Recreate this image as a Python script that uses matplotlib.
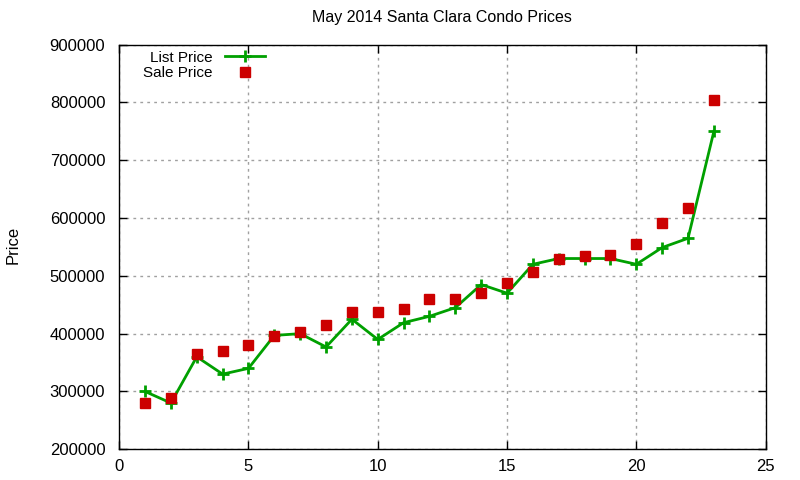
import matplotlib
matplotlib.use('Agg')
import matplotlib.pyplot as plt

plt.rcParams['font.family'] = ['Liberation Sans', 'DejaVu Sans']

# data
months = list(range(1, 24))
list_price = [300000, 280000, 360000, 330000, 340000, 397000, 400000, 377000, 425000, 390000,
              419000, 430000, 445000, 485000, 470000, 520000, 530000, 530000, 530000, 520000,
              549000, 565000, 750000]
sale_price = [280000, 289000, 365000, 370000, 380000, 396000, 403000, 415000, 437000, 437000,
              443000, 460000, 460000, 470000, 488000, 507000, 530000, 535000, 536000, 555000,
              592000, 618000, 805000]

fig = plt.figure(figsize=(8, 4.8), dpi=100)
ax = fig.add_axes([0.149, 0.064, 0.808, 0.843])

ax.plot(months, list_price, color='#00a000', linewidth=2, marker='+', markersize=9,
        markeredgewidth=2, label='List Price')
ax.plot(months, sale_price, linestyle='none', color='#cc0000', marker='s', markersize=7,
        label='Sale Price')

ax.set_xlim(0, 25)
ax.set_ylim(200000, 900000)
ax.set_xticks([0, 5, 10, 15, 20, 25])
ax.set_yticks(list(range(200000, 900001, 100000)))
ax.tick_params(direction='in', top=True, right=True, labelsize=12, length=6, width=1)
ax.tick_params(axis='y', pad=10)
ax.tick_params(axis='x', pad=7)
ax.grid(True, color='#a0a0a0', linestyle=(0, (2, 3)), linewidth=1)
for s in ax.spines.values():
    s.set_linewidth(1)

ax.set_title('May 2014 Santa Clara Condo Prices', fontsize=11.5, pad=16)
fig.text(0.007, 0.49, 'Price', rotation=90, fontsize=12, va='center')

leg = ax.legend(loc='upper left', bbox_to_anchor=(0.028, 1.0), markerfirst=False, frameon=False,
                fontsize=11, handlelength=2.6, labelspacing=0.1, borderaxespad=0.1,
                borderpad=0.3)
for t in leg.get_texts():
    t.set_ha('right')

fig.savefig('out.png', dpi=100)
